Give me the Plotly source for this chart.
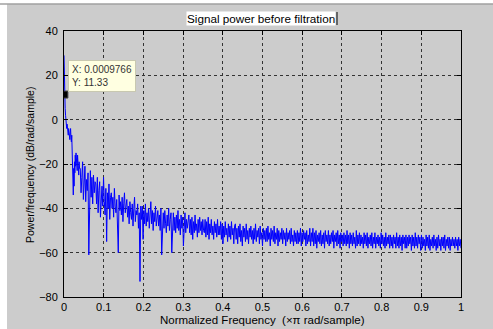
import numpy as np
import plotly.graph_objects as go

# ---- data ----
# head: bins k = 0..40 of a 1024-bin one-sided PSD (step 1/1024)
head_db = [29, 11.33, 10, 5, 2, 0, -1, -4, -2, -6,
           -3, -7, -4, -8, -5, -9, -6, -4, -8, -10,
           -7, -14, -20, -26, -34, -22, -30, -19, -24, -16,
           -21, -15, -19, -17, -23, -16, -20, -18, -25, -19,
           -22]
# tail: bins k = 42, 44, ..., 1024
tail_db = [
    -22, -33, -26, -19, -36, -28, -21, -37, -27, -32, -24, -61, -31, -23, -35, -26, -38, -25, -33, -28,
    -29, -38, -26, -42, -32, -28, -44, -34, -30, -39, -26, -37, -43, -31, -55, -33, -40, -29, -45, -35,
    -33, -40, -35, -44, -31, -39, -42, -36, -45, -60, -34, -41, -37, -43, -35, -46, -38, -33, -42, -39,
    -36, -44, -39, -47, -37, -42, -45, -38, -48, -40, -35, -46, -41, -43, -38, -49, -42, -73, -39, -45,
    -39, -54, -41, -47, -38, -48, -42, -46, -40, -49, -44, -37, -47, -41, -50, -42, -46, -39, -48, -44,
    -41, -48, -43, -50, -40, -61, -46, -42, -49, -41, -47, -51, -43, -48, -40, -50, -45, -42, -60, -47,
    -42, -50, -44, -51, -43, -49, -41, -50, -45, -52, -43, -49, -44, -57, -48, -42, -51, -45, -49, -44,
    -43, -51, -45, -52, -44, -54, -46, -51, -43, -50, -47, -53, -45, -51, -44, -50, -46, -52, -45, -50,
    -51, -45, -53, -46, -52, -44, -54, -47, -51, -45, -52, -48, -54, -46, -51, -47, -53, -45, -52, -48,
    -52, -46, -54, -47, -56, -48, -53, -46, -52, -49, -55, -47, -53, -48, -54, -46, -52, -49, -56, -48,
    -47, -54, -49, -56, -48, -53, -47, -55, -50, -57, -48, -53, -49, -55, -47, -54, -50, -56, -49, -53,
    -48, -54, -50, -56, -49, -54, -47, -55, -50, -53, -49, -56, -48, -54, -51, -57, -49, -54, -50, -55,
    -49, -55, -48, -54, -51, -57, -49, -54, -50, -55, -48, -56, -51, -54, -49, -57, -50, -55, -51, -54,
    -49, -56, -50, -54, -51, -57, -49, -55, -51, -54, -50, -56, -49, -55, -52, -57, -50, -55, -51, -56,
    -50, -56, -51, -55, -49, -57, -51, -55, -50, -54, -51, -57, -50, -56, -52, -55, -49, -57, -51, -55,
    -49, -57, -51, -56, -50, -58, -52, -55, -51, -56, -50, -57, -52, -56, -51, -58, -50, -55, -52, -56,
    -50, -57, -52, -56, -51, -55, -50, -58, -52, -55, -51, -57, -50, -56, -52, -58, -51, -55, -52, -57,
    -51, -56, -52, -57, -50, -56, -52, -58, -51, -56, -52, -57, -51, -56, -53, -58, -50, -57, -52, -56,
    -51, -57, -52, -56, -53, -58, -51, -56, -52, -57, -51, -58, -53, -56, -52, -57, -51, -58, -53, -56,
    -51, -58, -53, -56, -52, -57, -53, -58, -51, -56, -52, -57, -53, -58, -51, -57, -53, -56, -52, -58,
    -52, -57, -53, -58, -52, -56, -53, -58, -51, -57, -53, -58, -52, -57, -53, -59, -52, -56, -53, -58,
    -52, -58, -53, -57, -52, -56, -53, -59, -52, -57, -53, -58, -51, -57, -53, -58, -52, -56, -53, -59,
    -52, -58, -53, -57, -54, -59, -52, -57, -53, -58, -52, -59, -54, -57, -53, -58, -52, -57, -54, -59,
    -53, -58, -52, -57, -54, -59, -53, -57, -53, -58, -52, -59, -54, -57, -53, -58, -53, -59, -54, -57,
    -53, -57, -54, -58, -53, -57, -54, -59, -53, -57, -54, -58,
]
n_fft_half = 1024
tail_step = 2
tip_x = 0.0009766
tip_y = 11.33
x_ticks = [0, 0.1, 0.2, 0.3, 0.4, 0.5, 0.6, 0.7, 0.8, 0.9, 1]
x_tick_text = ["0", "0.1", "0.2", "0.3", "0.4", "0.5", "0.6", "0.7", "0.8", "0.9", "1"]
y_ticks = [-80, -60, -40, -20, 0, 20, 40]
title_text = "Signal power before filtration"
x_label = "Normalized Frequency  (\u00d7\u03c0 rad/sample)"
y_label = "Power/frequency (dB/rad/sample)"

# sample grid
freq_head = np.arange(len(head_db)) / n_fft_half
freq_tail = (len(head_db) - 1 + tail_step * np.arange(1, len(tail_db) + 1)) / n_fft_half
freq = np.concatenate([freq_head, freq_tail])
psd = np.array(head_db + tail_db, dtype=float)

FONT = "Arial, Liberation Sans, sans-serif"

fig = go.Figure()
fig.add_trace(go.Scatter(x=freq, y=psd, mode="lines",
                         line=dict(color="#0000ff", width=1), hoverinfo="skip"))
fig.add_trace(go.Scatter(x=[tip_x], y=[tip_y], mode="markers",
                         marker=dict(symbol="square", size=7, color="black",
                                     line=dict(color="#444", width=1)),
                         hoverinfo="skip"))

L, R, T, B = 64, 461, 31, 297
W, H = 493, 329
pw, ph = R - L, B - T

def px(x):
    return (x - L) / pw

def py(y):
    return (B - y) / ph

axis_common = dict(showline=True, linecolor="black", linewidth=1, mirror="ticks",
                   ticks="inside", ticklen=4, tickcolor="black",
                   showgrid=True, gridcolor="#333333", gridwidth=1, griddash="dot",
                   zeroline=False, tickfont=dict(family=FONT, size=11, color="black"))

fig.update_layout(
    width=W, height=H,
    margin=dict(l=L, r=W - R, t=T, b=H - B, pad=0),
    paper_bgcolor="white", plot_bgcolor="white",
    showlegend=False,
    xaxis=dict(range=[0, 1], tickvals=x_ticks, ticktext=x_tick_text, **axis_common),
    yaxis=dict(range=[-80, 40], tickvals=y_ticks, ticklabelstandoff=3, **axis_common),
    shapes=[
        dict(type="rect", xref="paper", yref="paper", x0=px(7), x1=px(W + 5),
             y0=py(H + 5), y1=py(4), fillcolor="#cccccc", line=dict(width=0), layer="below"),
        dict(type="line", xref="paper", yref="paper", x0=px(0), x1=px(W + 5),
             y0=py(4), y1=py(4), line=dict(color="#a0a0a0", width=1.5)),
        dict(type="line", xref="paper", yref="paper", x0=px(337), x1=px(337),
             y0=py(12), y1=py(25), line=dict(color="black", width=1)),
    ],
    annotations=[
        dict(text=title_text, xref="paper", yref="paper", x=px(261), y=py(18.5),
             showarrow=False, font=dict(family=FONT, size=11.7, color="black"),
             bgcolor="white", borderpad=0, xanchor="center", yanchor="middle"),
        dict(text=x_label, xref="paper", yref="paper", x=px(262), y=py(320),
             showarrow=False, font=dict(family=FONT, size=11.5, color="black"),
             xanchor="center", yanchor="middle"),
        dict(text=y_label, xref="paper", yref="paper", x=px(30), y=py(165),
             showarrow=False, textangle=-90, font=dict(family=FONT, size=10.5, color="black"),
             xanchor="center", yanchor="middle"),
        dict(text="X: %s<br>Y: %s" % (tip_x, tip_y), xref="paper", yref="paper",
             x=px(68), y=py(60), xanchor="left", yanchor="top", align="left",
             showarrow=False, font=dict(family=FONT, size=10, color="#333333"),
             bgcolor="#ffffe1", bordercolor="#c8c8b0", borderwidth=1, borderpad=3),
    ],
)

fig.write_html("out.html", config={"displayModeBar": False},
               post_script="document.body.style.margin='0';")
